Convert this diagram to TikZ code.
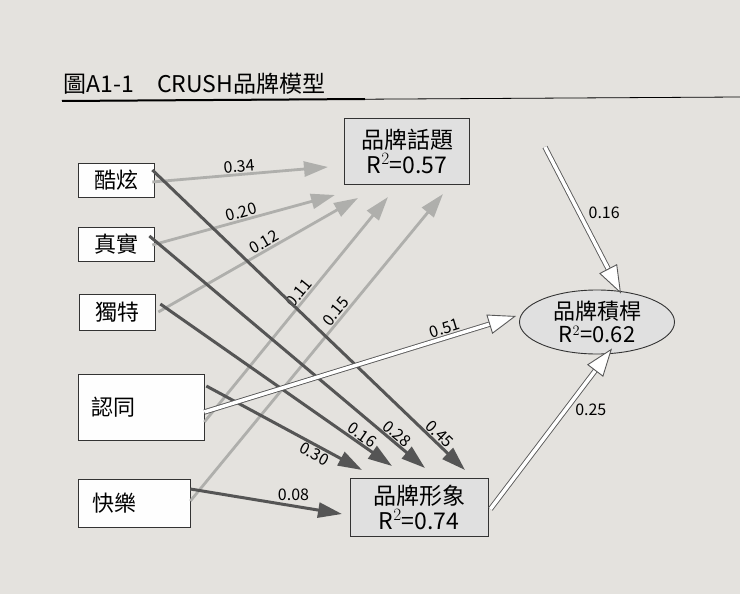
\documentclass[tikz,border=0pt]{standalone}
\usepackage{fontspec}
\setmainfont{Noto Sans CJK TC}
\usetikzlibrary{arrows.meta,shapes.geometric}
\definecolor{paper}{RGB}{228,226,222}
\definecolor{lite}{RGB}{175,175,172}
\definecolor{dark}{RGB}{85,85,85}
\tikzset{
  src/.style={draw=black!80,fill=white!97!paper,line width=0.7pt,minimum height=34pt,align=center,font=\fontsize{22}{24}\selectfont},
  tgt/.style={draw=black!80,fill=black!12,line width=0.9pt,align=center,font=\fontsize{23}{25}\selectfont},
  la/.style={draw=lite,line width=2.8pt,-{Triangle[length=24pt,width=15pt]}},
  da/.style={draw=dark,line width=3pt,-{Triangle[length=24pt,width=15pt]}},
  wa/.style={draw=black!65,double=white,double distance=3.5pt,line width=0.9pt,-{Triangle[open,length=28pt,width=20pt,fill=white]}},
  lab/.style={font=\fontsize{16}{17}\selectfont,inner sep=1pt}
}
\begin{document}
\begin{tikzpicture}[x=1pt,y=-1pt]
\fill[paper] (0,0) rectangle (740,594);
\useasboundingbox (0,0) rectangle (740,594);
\node[anchor=west,font=\fontsize{23}{25}\selectfont] (title) at (60,84) {圖A1-1\quad CRUSH品牌模型};
\draw[line width=0.8pt] (62,101) -- (740,97);
\draw[line width=2pt] (62,101) -- (365,99);
% sources
\node[src,minimum width=76pt] (a) at (116,180) {酷炫};
\node[src,minimum width=76pt] (b) at (116,244) {真實};
\node[src,minimum width=76pt,minimum height=36pt] (c) at (117,312) {獨特};
\node[src,minimum width=126pt,minimum height=66pt] (d) at (141,407) {\hspace*{-56pt}認同};
\node[src,minimum width=112pt,minimum height=48pt] (e) at (134,503) {\hspace*{-40pt}快樂};
% targets
\node[tgt,minimum width=125pt,minimum height=66pt,inner sep=1pt] (t) at (407,151) {品牌話題\\R$^2$=0.57};
\node[tgt,minimum width=138pt,minimum height=58pt,inner sep=1pt] (i) at (419,507) {品牌形象\\R$^2$=0.74};
\node[ellipse,draw=black!80,line width=0.9pt,fill=black!12,minimum width=155pt,minimum height=64pt,inner sep=0pt,align=center,font=\fontsize{22}{23}\selectfont] (l) at (597,322) {品牌積桿\\R$^2$=0.62};
\coordinate (t1) at (328,167);\coordinate (t2) at (335,195);\coordinate (t3) at (358,198);
\coordinate (t4) at (388,197);\coordinate (t5) at (443,194);
\coordinate (i1) at (465,470);\coordinate (i2) at (425,468);\coordinate (i3) at (392,466);
\coordinate (i4) at (362,470);\coordinate (i5) at (342,514);
% light arrows
\draw[la] ([xshift=-2pt,yshift=-2pt]a.east) -- node[lab,above,sloped] {0.34} (t1);
\draw[la] ([xshift=-2pt,yshift=-1pt]b.east) -- node[lab,above,sloped,pos=0.5] {0.20} (t2);
\draw[la] ([xshift=3pt]c.east) -- node[lab,above,sloped,pos=0.55] {0.12} (t3);
\draw[la] ([yshift=-15pt]d.east) -- node[lab,above,sloped,pos=0.55] {0.11} (t4);
\draw[la] ([yshift=2pt]e.east) -- node[lab,above,sloped,pos=0.6] {0.15} (t5);
% dark arrows
\draw[da] ([xshift=-2pt,yshift=10pt]a.east) -- node[lab,above,sloped,pos=0.9] {0.45} (i1);
\draw[da] ([xshift=-5pt,yshift=8pt]b.east) -- node[lab,above,sloped,pos=0.88] {0.28} (i2);
\draw[da] ([xshift=5pt,yshift=8pt]c.east) -- node[lab,above,sloped,pos=0.85] {0.16} (i3);
\draw[da] ([xshift=2pt,yshift=21pt]d.east) -- node[lab,below,sloped,pos=0.72] {0.30} (i4);
\draw[da] ([yshift=14pt]e.east) -- node[lab,above,pos=0.68,yshift=3pt] {0.08} (i5);
% white double arrows
\draw[wa] ([yshift=-5pt]d.east) -- node[lab,above,sloped,pos=0.78,yshift=2pt] {0.51} ([xshift=-3pt,yshift=6pt]l.west);
\draw[wa] ([xshift=2pt,yshift=-2pt]i.east) -- node[lab,right,pos=0.62,xshift=8pt] {0.25} ([xshift=15pt,yshift=6pt]l.south);
\draw[wa] ([xshift=75pt,yshift=4pt]t.east) -- node[lab,right,pos=0.45,xshift=8pt] {0.16} ([xshift=24pt,yshift=-4pt]l.north);
\end{tikzpicture}
\end{document}
